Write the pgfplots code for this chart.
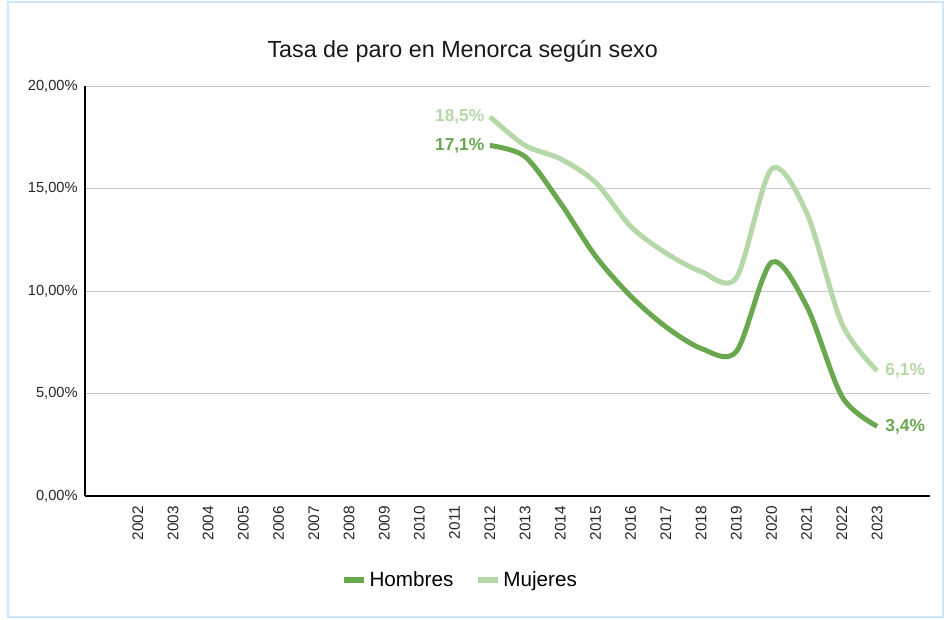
\documentclass[border=0pt]{standalone}
\usepackage{fontspec}
\setmainfont{Liberation Sans}
\usepackage{pgfplots}
\pgfplotsset{compat=1.18}
\definecolor{dk}{HTML}{6AA84F}
\definecolor{lt}{HTML}{B6D7A8}
\definecolor{bord}{HTML}{CFE6F9}
\begin{document}
\begin{tikzpicture}[x=1pt,y=1pt]
\useasboundingbox (0,0) rectangle (711.75,464.25);
\draw[bord, line width=1.5pt] (6,1.5) rectangle (707,463);
\begin{axis}[
  at={(63.75pt,92.25pt)}, anchor=south west,
  scale only axis, width=633.75pt, height=307.5pt,
  xmin=2000.5, xmax=2024.5, ymin=0, ymax=20,
  axis x line=bottom, axis y line=left,
  axis line style={-, black, line width=0.8pt},
  ymajorgrids, grid style={black!22, line width=0.6pt},
  major tick length=0pt,
  xtick={2002,...,2023},
  xticklabels={2002,2003,2004,2005,2006,2007,2008,2009,2010,2011,2012,2013,2014,2015,2016,2017,2018,2019,2020,2021,2022,2023},
  x tick label style={rotate=90, anchor=east, font=\fontsize{11.5}{13}\selectfont, text=black!85},
  xticklabel shift=4pt,
  ytick={0,5,10,15,20},
  yticklabels={{0,00\%},{5,00\%},{10,00\%},{15,00\%},{20,00\%}},
  y tick label style={font=\fontsize{11}{13}\selectfont, text=black!85},
  yticklabel shift=2pt,
  legend style={at={(0.444,-0.205)}, anchor=center, draw=none, fill=none,
    legend columns=2, font=\fontsize{15.5}{18}\selectfont,
    /tikz/every even column/.append style={column sep=14pt}},
  legend image code/.code={\draw[line width=4.5pt] (0pt,0pt) -- (15pt,0pt);},
  clip=false,
]
\addplot[dk, line width=3.75pt, smooth, tension=0.5] coordinates {
(2012,17.1) (2013,16.55) (2014,14.3) (2015,11.7) (2016,9.75) (2017,8.25) (2018,7.2) (2019,7.05) (2020,11.4) (2021,9.25) (2022,4.85) (2023,3.4)};
\addlegendentry{Hombres}
\addplot[lt, line width=3.75pt, smooth, tension=0.5] coordinates {
(2012,18.5) (2013,17.1) (2014,16.45) (2015,15.3) (2016,13.15) (2017,11.85) (2018,10.95) (2019,10.65) (2020,15.95) (2021,13.8) (2022,8.4) (2023,6.1)};
\addlegendentry{Mujeres}
\node[anchor=east, text=dk, font=\bfseries\fontsize{13}{15}\selectfont, inner sep=4pt] at (axis cs:2012,17.1) {17,1\%};
\node[anchor=east, text=lt, font=\bfseries\fontsize{13}{15}\selectfont, inner sep=4pt] at (axis cs:2012,18.5) {18,5\%};
\node[anchor=west, text=lt, font=\bfseries\fontsize{13}{15}\selectfont, inner sep=6pt] at (axis cs:2023,6.1) {6,1\%};
\node[anchor=west, text=dk, font=\bfseries\fontsize{13}{15}\selectfont, inner sep=6pt] at (axis cs:2023,3.4) {3,4\%};
\node[font=\fontsize{17.5}{21}\selectfont, text=black!90] at (rel axis cs:0.447,1.085) {Tasa de paro en Menorca según sexo};
\end{axis}
\end{tikzpicture}
\end{document}
